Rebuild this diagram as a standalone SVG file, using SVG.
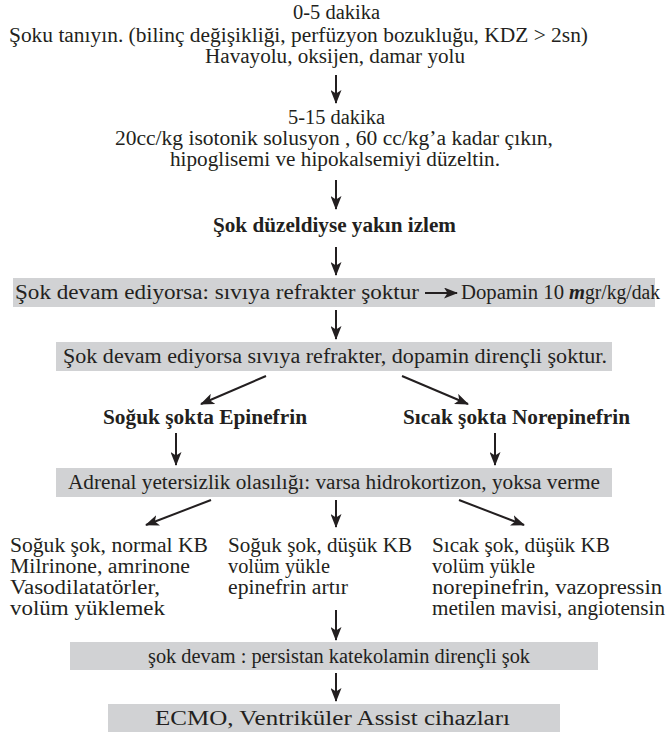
<svg xmlns="http://www.w3.org/2000/svg" width="672" height="734" viewBox="0 0 672 734">
<style>
text{font-family:"Liberation Serif","Times New Roman",serif;font-size:20px;fill:#231f20}
.b{font-weight:bold}
.bi{font-weight:bold;font-style:italic}
.box{fill:#d1d2d4}
.ln{stroke:#231f20;stroke-width:2;fill:none;marker-end:url(#ah)}
</style>
<defs>
<marker id="ah" viewBox="0 0 14 11" refX="13" refY="5.5" markerWidth="14" markerHeight="11" markerUnits="userSpaceOnUse" orient="auto">
<path d="M0,0 L14,5.5 L0,11 L3.5,5.5 Z" fill="#231f20"/>
</marker>
</defs>
<rect width="672" height="734" fill="#fff"/>
<g id="n1">
<text x="293" y="19" textLength="87" lengthAdjust="spacingAndGlyphs">0-5 dakika</text>
<text x="9" y="42" textLength="579" lengthAdjust="spacingAndGlyphs">Şoku tanıyın. (bilinç değişikliği, perfüzyon bozukluğu, KDZ &gt; 2sn)</text>
<text x="205" y="63" textLength="260" lengthAdjust="spacingAndGlyphs">Havayolu, oksijen, damar yolu</text>
</g>
<g id="n2">
<text x="288" y="124" textLength="97" lengthAdjust="spacingAndGlyphs">5-15 dakika</text>
<text x="115" y="145" textLength="438" lengthAdjust="spacingAndGlyphs">20cc/kg isotonik solusyon ,  60 cc/kg’a kadar çıkın,</text>
<text x="170" y="166" textLength="330" lengthAdjust="spacingAndGlyphs">hipoglisemi ve hipokalsemiyi düzeltin.</text>
</g>
<g id="n3">
<text class="b" x="213" y="232" textLength="243" lengthAdjust="spacingAndGlyphs">Şok düzeldiyse yakın izlem</text>
</g>
<g id="n4">
<rect class="box" x="13" y="278" width="642" height="29"/>
<text x="15" y="299" textLength="404" lengthAdjust="spacingAndGlyphs">Şok devam ediyorsa: sıvıya refrakter şoktur</text>
<text x="461" y="299" textLength="103" lengthAdjust="spacingAndGlyphs">Dopamin 10</text>
<text class="bi" x="569" y="299" textLength="16" lengthAdjust="spacingAndGlyphs">m</text>
<text x="585" y="299" textLength="75" lengthAdjust="spacingAndGlyphs">gr/kg/dak</text>
</g>
<g id="n5">
<rect class="box" x="56" y="342" width="556" height="29"/>
<text x="63" y="363" textLength="544" lengthAdjust="spacingAndGlyphs">Şok devam ediyorsa sıvıya refrakter, dopamin dirençli şoktur.</text>
</g>
<g id="n6">
<text class="b" x="103" y="424" textLength="204" lengthAdjust="spacingAndGlyphs">Soğuk şokta Epinefrin</text>
</g>
<g id="n7">
<text class="b" x="403" y="424" textLength="227" lengthAdjust="spacingAndGlyphs">Sıcak şokta Norepinefrin</text>
</g>
<g id="n8">
<rect class="box" x="56" y="468" width="556" height="29"/>
<text x="68" y="489" textLength="532" lengthAdjust="spacingAndGlyphs">Adrenal yetersizlik olasılığı: varsa hidrokortizon, yoksa verme</text>
</g>
<g id="n9">
<text x="10" y="552" textLength="198" lengthAdjust="spacingAndGlyphs">Soğuk şok, normal KB</text>
<text x="10" y="573" textLength="180" lengthAdjust="spacingAndGlyphs">Milrinone, amrinone</text>
<text x="10" y="594" textLength="150" lengthAdjust="spacingAndGlyphs">Vasodilatatörler,</text>
<text x="10" y="615" textLength="155" lengthAdjust="spacingAndGlyphs">volüm yüklemek</text>
</g>
<g id="n10">
<text x="228" y="552" textLength="184" lengthAdjust="spacingAndGlyphs">Soğuk şok, düşük KB</text>
<text x="228" y="573" textLength="102" lengthAdjust="spacingAndGlyphs">volüm yükle</text>
<text x="228" y="594" textLength="120" lengthAdjust="spacingAndGlyphs">epinefrin artır</text>
</g>
<g id="n11">
<text x="432" y="552" textLength="178" lengthAdjust="spacingAndGlyphs">Sıcak şok, düşük KB</text>
<text x="432" y="573" textLength="103" lengthAdjust="spacingAndGlyphs">volüm yükle</text>
<text x="432" y="594" textLength="230" lengthAdjust="spacingAndGlyphs">norepinefrin, vazopressin</text>
<text x="432" y="615" textLength="233" lengthAdjust="spacingAndGlyphs">metilen mavisi, angiotensin</text>
</g>
<g id="n12">
<rect class="box" x="70" y="642" width="528" height="28"/>
<text x="148" y="663" textLength="382" lengthAdjust="spacingAndGlyphs">şok devam : persistan katekolamin dirençli şok</text>
</g>
<g id="n13">
<rect class="box" x="108" y="704" width="452" height="28"/>
<text x="155" y="725" textLength="355" lengthAdjust="spacingAndGlyphs">ECMO, Ventriküler Assist cihazları</text>
</g>
<g id="connectors">
<line class="ln" x1="336" y1="75" x2="336" y2="103"/>
<line class="ln" x1="336" y1="180" x2="336" y2="209"/>
<line class="ln" x1="336" y1="247" x2="336" y2="275"/>
<line class="ln" x1="425" y1="293" x2="457" y2="293"/>
<line class="ln" x1="336" y1="310" x2="336" y2="339"/>
<line class="ln" x1="266" y1="376" x2="201" y2="404"/>
<line class="ln" x1="402" y1="376" x2="468" y2="404"/>
<line class="ln" x1="176" y1="433" x2="176" y2="465"/>
<line class="ln" x1="495" y1="433" x2="495" y2="465"/>
<line class="ln" x1="211" y1="500" x2="146" y2="525"/>
<line class="ln" x1="336" y1="500" x2="336" y2="527"/>
<line class="ln" x1="459" y1="500" x2="524" y2="525"/>
<line class="ln" x1="336" y1="610" x2="336" y2="640"/>
<line class="ln" x1="336" y1="673" x2="336" y2="701"/>
</g>
</svg>
